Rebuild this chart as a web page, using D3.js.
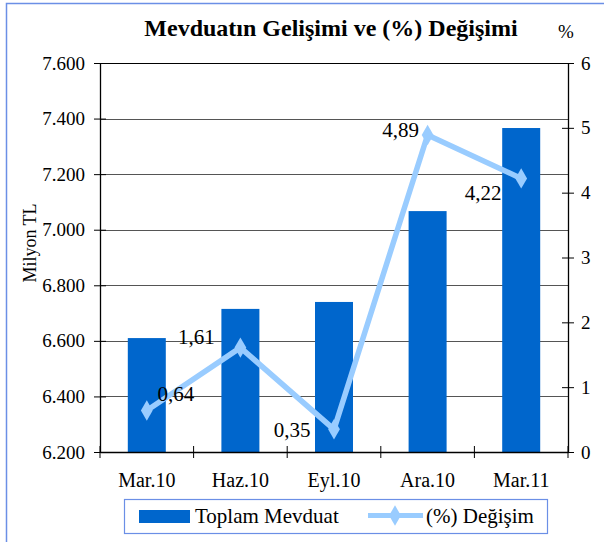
<!DOCTYPE html>
<html>
<head>
<meta charset="utf-8">
<script src="https://cdn.jsdelivr.net/npm/d3@7"></script>
<style>
  body { margin: 0; background: #fff; }
</style>
</head>
<body>
<div id="chart"></div>
<script>
// data
var periods = ["Mar.10", "Haz.10", "Eyl.10", "Ara.10", "Mar.11"];
var deposits = [6610, 6715, 6740, 7067, 7366];   // Milyon TL
var changes = [0.64, 1.61, 0.35, 4.89, 4.22];     // %
var changeLabels = ["0,64", "1,61", "0,35", "4,89", "4,22"];
var leftTicks = [6200, 6400, 6600, 6800, 7000, 7200, 7400, 7600];
var rightTicks = [0, 1, 2, 3, 4, 5, 6];

// label placement relative to each point
var labelOffsets = [[29, -10], [-44, -4], [-42, 8], [-27, 2], [-38, 22]];

var FONT = "Liberation Serif";

var svg = d3.select("#chart").append("svg")
  .attr("width", 604)
  .attr("height", 542)
  .attr("font-family", FONT);

var margin = {top: 63, right: 36, bottom: 90, left: 100},
    width = 604 - margin.left - margin.right,
    height = 542 - margin.top - margin.bottom;

// outer frame (only left/top visible in the reference)
svg.append("path")
  .attr("d", "M6.5,542 V3.5 H604")
  .attr("fill", "none")
  .attr("stroke", "#6b8fe6")
  .attr("stroke-width", 1.5);

var g = svg.append("g").attr("transform", "translate(" + margin.left + "," + margin.top + ")");

var x = d3.scaleBand().domain(periods).range([0, width]);
var y = d3.scaleLinear().domain([6200, 7600]).range([height, 0]);
var y2 = d3.scaleLinear().domain([0, 6]).range([height, 0]);

// gridlines
g.selectAll("line.grid")
  .data(leftTicks.slice(1, -1))
  .enter().append("line")
  .attr("class", "grid")
  .attr("x1", 0).attr("x2", width)
  .attr("y1", function(d) { return Math.round(y(d)) + 0.5; })
  .attr("y2", function(d) { return Math.round(y(d)) + 0.5; })
  .attr("stroke", "#555")
  .attr("stroke-width", 1.2);

g.append("line")
  .attr("x1", 0).attr("x2", width)
  .attr("y1", 0.5).attr("y2", 0.5)
  .attr("stroke", "#000")
  .attr("stroke-width", 1.2);

// bars
var barW = 38;
g.selectAll("rect.bar")
  .data(deposits)
  .enter().append("rect")
  .attr("class", "bar")
  .attr("x", function(d, i) { return x(periods[i]) + x.bandwidth() / 2 - barW / 2; })
  .attr("y", function(d) { return y(d); })
  .attr("width", barW)
  .attr("height", function(d) { return height - y(d); })
  .attr("fill", "#0066cc");

// axes
var leftAxis = g.append("g")
  .call(d3.axisLeft(y).tickValues(leftTicks).tickSize(6).tickSizeOuter(0)
    .tickFormat(function(d) { return (d / 1000).toFixed(3); }));

var rightAxis = g.append("g")
  .attr("transform", "translate(" + width + ",0)")
  .call(d3.axisRight(y2).tickValues(rightTicks).tickSize(6).tickSizeOuter(0)
    .tickFormat(d3.format("d")));

var bottomAxis = g.append("g")
  .attr("transform", "translate(0," + height + ")")
  .call(d3.axisBottom(x).tickSize(0).tickSizeOuter(0));

// category boundary ticks
g.selectAll("line.xtick")
  .data(d3.range(periods.length + 1))
  .enter().append("line")
  .attr("class", "xtick")
  .attr("x1", function(i) { return i * x.step(); })
  .attr("x2", function(i) { return i * x.step(); })
  .attr("y1", height - 6).attr("y2", height + 6)
  .attr("stroke", "#000");

[leftAxis, rightAxis, bottomAxis].forEach(function(a) {
  a.attr("font-family", FONT).attr("font-size", 19);
  a.select(".domain").attr("stroke", "#000").attr("stroke-width", 1.3);
  a.selectAll(".tick line").attr("stroke", "#000");
  a.selectAll("text")
    .attr("font-family", FONT)
    .attr("font-size", 19)
    .attr("fill", "#000");
});
leftAxis.selectAll(".tick line").attr("x1", 6).attr("x2", -6);
leftAxis.selectAll("text").attr("x", -15);
rightAxis.selectAll(".tick line").attr("x1", -6).attr("x2", 6);
rightAxis.selectAll("text").attr("x", 13);
bottomAxis.selectAll("text").attr("y", 35).attr("dy", 0).attr("font-size", 20);

// change line
var line = d3.line()
  .x(function(d, i) { return x(periods[i]) + x.bandwidth() / 2; })
  .y(function(d) { return y2(d); });

g.append("path")
  .datum(changes)
  .attr("d", line)
  .attr("fill", "none")
  .attr("stroke", "#99ccff")
  .attr("stroke-width", 5.5)
  .attr("stroke-linejoin", "round");

var diamond = d3.symbol().type(d3.symbolDiamond).size(120);
g.selectAll("path.marker")
  .data(changes)
  .enter().append("path")
  .attr("class", "marker")
  .attr("d", diamond)
  .attr("transform", function(d, i) {
    return "translate(" + (x(periods[i]) + x.bandwidth() / 2) + "," + y2(d) + ")";
  })
  .attr("fill", "#99ccff");

g.selectAll("text.val")
  .data(changes)
  .enter().append("text")
  .attr("class", "val")
  .attr("x", function(d, i) { return x(periods[i]) + x.bandwidth() / 2 + labelOffsets[i][0]; })
  .attr("y", function(d, i) { return y2(d) + labelOffsets[i][1]; })
  .attr("text-anchor", "middle")
  .attr("font-family", FONT)
  .attr("font-size", 21)
  .text(function(d, i) { return changeLabels[i]; });

// titles
svg.append("text")
  .attr("x", 331).attr("y", 36)
  .attr("text-anchor", "middle")
  .attr("font-family", FONT)
  .attr("font-size", 24)
  .attr("font-weight", "bold")
  .text("Mevduatın Gelişimi ve (%) Değişimi");

svg.append("text")
  .attr("x", 566).attr("y", 38)
  .attr("text-anchor", "middle")
  .attr("font-family", FONT)
  .attr("font-size", 19)
  .text("%");

svg.append("text")
  .attr("transform", "translate(36,243) rotate(-90)")
  .attr("text-anchor", "middle")
  .attr("font-family", FONT)
  .attr("font-size", 18)
  .text("Milyon TL");

// legend
var legend = svg.append("g").attr("transform", "translate(124,499)");
legend.append("rect")
  .attr("x", 0.5).attr("y", 0.5)
  .attr("width", 423).attr("height", 34)
  .attr("fill", "#fff")
  .attr("stroke", "#6b8fe6")
  .attr("stroke-width", 1.2);
legend.append("rect")
  .attr("x", 15).attr("y", 11)
  .attr("width", 51).attr("height", 13)
  .attr("fill", "#0066cc");
legend.append("text")
  .attr("x", 71).attr("y", 24)
  .attr("font-family", FONT)
  .attr("font-size", 21)
  .text("Toplam Mevduat");
legend.append("line")
  .attr("x1", 244).attr("x2", 299)
  .attr("y1", 16.5).attr("y2", 16.5)
  .attr("stroke", "#99ccff")
  .attr("stroke-width", 5);
legend.append("path")
  .attr("d", diamond)
  .attr("transform", "translate(271,16.5)")
  .attr("fill", "#99ccff");
legend.append("text")
  .attr("x", 302).attr("y", 24)
  .attr("font-family", FONT)
  .attr("font-size", 21)
  .text("(%) Değişim");
</script>
</body>
</html>
